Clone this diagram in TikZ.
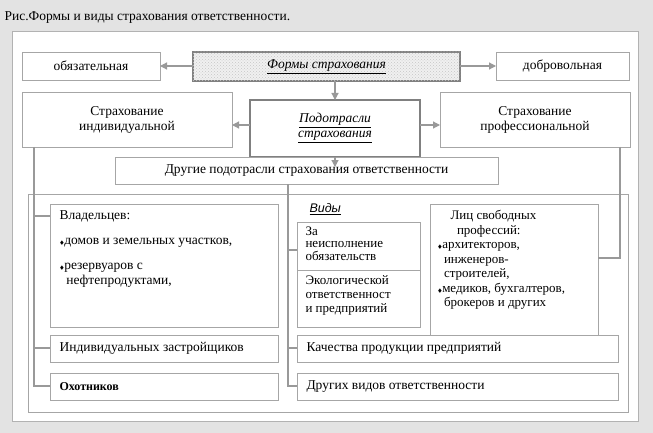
\documentclass[tikz,border=0pt]{standalone}
\usepackage{amssymb}
\usepackage{fontspec}
\setmainfont{Liberation Serif}
\newfontfamily\sansf{Liberation Sans}
\usetikzlibrary{arrows.meta,patterns}
\begin{document}
\begin{tikzpicture}[x=1pt,y=-1pt,
  bx/.style={draw=gray!70,line width=0.8pt,fill=white},
  lbl/.style={font=\fontsize{13.5}{15}\selectfont,align=center},
  ln/.style={draw=gray!80,line width=1.2pt},
  ar/.style={ln,-{Triangle[length=7pt,width=7pt]}}]
\useasboundingbox (0,0) rectangle (653,433);
\fill[gray!22] (0,0) rectangle (653,433);
\draw[gray!60,line width=1pt,fill=white] (12,32) rectangle (638,421);
\node[anchor=west,lbl] (title) at (1,18) {Рис.Формы и виды страхования ответственности.};
% top row
\draw[bx] (22,52) rectangle (160,80) node[midway,lbl] (obz) {обязательная};
\draw[draw=gray,line width=2pt,fill=gray!12] (193,52) rectangle (460,81);
\draw[pattern=crosshatch dots,pattern color=gray!45,draw=none] (193,52) rectangle (460,81);
\node[lbl] (formy) at (326.5,66.5) {\itshape\underline{Формы страхования}};
\draw[bx] (496,52) rectangle (629,80) node[midway,lbl] (dobr) {добровольная};
% second row
\draw[bx] (22,92) rectangle (232,147) node[midway,lbl] (ind) {Страхование\\индивидуальной};
\draw[draw=gray,line width=2pt,fill=white] (250,100) rectangle (420,157) node[midway,lbl] (podo) {\itshape\underline{Подотрасли}\\\itshape\underline{страхования}};
\draw[bx] (440,92) rectangle (630,147) node[midway,lbl] (prof) {Страхование\\профессиональной};
\draw[bx] (115,157) rectangle (498,184) node[midway,lbl] (drug) {Другие подотрасли страхования ответственности};
% arrows
\draw[ar] (193,66) -- (160,66);
\draw[ar] (460,66) -- (496,66);
\draw[ar] (335,81) -- (335,100);
\draw[ar] (250,125) -- (232,125);
\draw[ar] (420,125) -- (440,125);
\draw[ar] (335,157) -- (335,167);
% big box
\draw[bx] (28,194) rectangle (628,412);
% left column
\draw[bx] (50,204) rectangle (278,327);
\node[anchor=north west,lbl,align=left] (vlad) at (56,207) {Владельцев:\\[10pt]
{\tiny$\blacklozenge$}домов и земельных участков,\\[10pt]
{\tiny$\blacklozenge$}резервуаров с\\\ \ нефтепродуктами,};
\draw[bx] (50,335) rectangle (278,362);
\node[anchor=west,lbl] (zast) at (56,348.5) {Индивидуальных застройщиков};
\draw[bx] (50,373) rectangle (278,400);
\node[anchor=west,lbl,font=\fontsize{12}{13}\selectfont\bfseries] (oxo) at (56,386.5) {Охотников};
% middle column
\node[anchor=west,font=\sansf\fontsize{12.5}{14}\selectfont\itshape] (vidy) at (306,209) {\underline{Виды}};
\draw[bx] (297,222) rectangle (420,270);
\node[anchor=north west,lbl,align=left,font=\fontsize{13}{12.5}\selectfont] (neisp) at (302,223) {За\\неисполнение\\обязательств};
\draw[bx] (297,270) rectangle (420,327);
\node[anchor=north west,lbl,align=left,font=\fontsize{13}{14}\selectfont] (eko) at (302,272) {Экологической\\ответственност\\и предприятий};
\draw[bx] (430,204) rectangle (598,335);
\node[anchor=north west,lbl,align=left,font=\fontsize{13}{14.5}\selectfont] (lic) at (434,207) {\ \ \ \ Лиц свободных\\\ \ \ \ \ \ профессий:\\
{\tiny$\blacklozenge$}архитекторов,\\\ \ инженеров-\\\ \ строителей,\\
{\tiny$\blacklozenge$}медиков, бухгалтеров,\\\ \ брокеров и других};
\draw[bx] (297,335) rectangle (618,362);
\node[anchor=west,lbl] (kach) at (303,348.5) {Качества продукции предприятий};
\draw[bx] (297,373) rectangle (618,400);
\node[anchor=west,lbl] (drv) at (303,386.5) {Других видов ответственности};
% connector lines
\draw[ln] (34,147) -- (34,386) -- (50,386);
\draw[ln] (34,216) -- (50,216);
\draw[ln] (34,348) -- (50,348);
\draw[ln] (288,184) -- (288,386) -- (297,386);
\draw[ln] (288,250) -- (297,250);
\draw[ln] (288,348) -- (297,348);
\draw[ln] (620,147) -- (620,258) -- (598,258);
\end{tikzpicture}
\end{document}
